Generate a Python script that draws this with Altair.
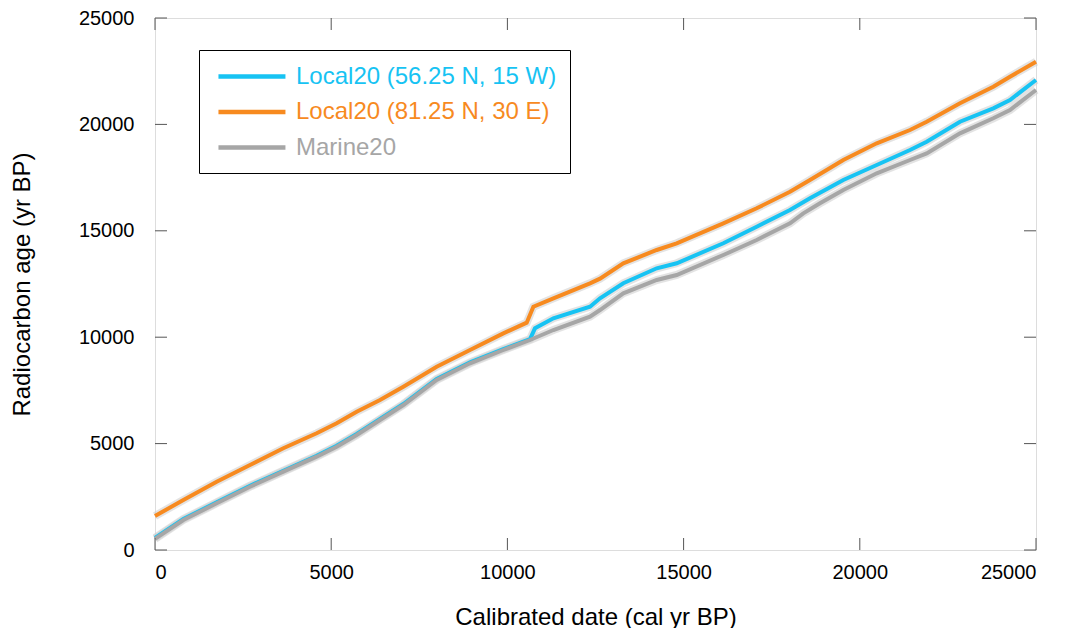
import altair as alt
import pandas as pd

series_names = ["Local20 (56.25 N, 15 W)", "Local20 (81.25 N, 30 E)", "Marine20"]
series_colors = ["#17c3f3", "#f78a1f", "#a6a6a6"]

# Local20 (56.25 N, 15 W)
blue_cal = [0, 805, 1750, 2696, 3641, 4587, 5155, 5723, 6385, 7047, 7993, 8939, 9884, 10641,
            10783, 11305, 12344, 12628, 13289, 14237, 14804, 16127, 17074, 18019, 18586, 19532,
            20480, 21425, 21898, 22843, 23788, 24262, 25000]
blue_age = [570, 1455, 2240, 3020, 3725, 4430, 4900, 5450, 6155, 6860, 8035, 8820, 9445, 9910,
            10418, 10888, 11433, 11828, 12533, 13238, 13473, 14413, 15193, 15978, 16528, 17387,
            18092, 18797, 19187, 20127, 20756, 21147, 22086]

# Local20 (81.25 N, 30 E)
orange_cal = [0, 805, 1750, 2696, 3641, 4587, 5155, 5723, 6385, 7047, 7993, 8939, 9884, 10547,
              10737, 11305, 12344, 12628, 13289, 14237, 14804, 16127, 17074, 18019, 18586, 19532,
              20480, 21425, 21898, 22843, 23788, 24262, 25000]
orange_age = [1598, 2350, 3210, 3995, 4780, 5485, 5955, 6500, 7050, 7675, 8614, 9398, 10181, 10682,
              11433, 11828, 12533, 12750, 13473, 14098, 14413, 15352, 16058, 16838, 17387, 18327,
              19112, 19737, 20127, 20990, 21772, 22241, 22947]

# Marine20
gray_cal = [0, 805, 1750, 2696, 3641, 4587, 5155, 5723, 6385, 7047, 7993, 8939, 9884, 10641,
            11305, 12344, 12628, 13289, 14237, 14804, 16127, 17074, 18019, 18397, 18870, 19532,
            20480, 21425, 21898, 22843, 23788, 24262, 25000]
gray_age = [520, 1410, 2195, 2975, 3680, 4385, 4855, 5405, 6110, 6814, 7989, 8773, 9398, 9868,
            10338, 10963, 11278, 12063, 12688, 12923, 13863, 14568, 15353, 15823, 16293, 16917,
            17702, 18327, 18640, 19580, 20287, 20677, 21616]

tick_values = [0, 5000, 10000, 15000, 20000, 25000]

W, H = 881, 532
TL = 12

rows = []
for name, cals, ages in [(series_names[0], blue_cal, blue_age),
                         (series_names[2], gray_cal, gray_age),
                         (series_names[1], orange_cal, orange_age)]:
    for c, a in zip(cals, ages):
        rows.append({"series": name, "cal": c, "age": a})
df = pd.DataFrame(rows)
ticks_df = pd.DataFrame({"v": tick_values})

xscale = alt.Scale(domain=[0, 25000], nice=False, zero=False)
yscale = alt.Scale(domain=[0, 25000], nice=False, zero=False)

label_color_expr = (
    f"datum.label == '{series_names[0]}' ? '{series_colors[0]}' : "
    f"(datum.label == '{series_names[1]}' ? '{series_colors[1]}' : '{series_colors[2]}')"
)

FONT = "Liberation Sans"

x_enc = alt.X("cal:Q", scale=xscale,
              axis=alt.Axis(values=tick_values, ticks=False, domain=False, grid=False,
                            labelFontSize=20, labelPadding=12, labelColor="black",
                            labelFont=FONT, format="d",
                            title="Calibrated date (cal yr BP)", titleFontSize=24,
                            titleFont=FONT, titleFontWeight="normal",
                            titlePadding=23, titleColor="black"))
y_enc = alt.Y("age:Q", scale=yscale,
              axis=alt.Axis(values=tick_values, ticks=False, domain=False, grid=False,
                            labelFontSize=20, labelPadding=21, labelColor="black",
                            labelFont=FONT, format="d",
                            title="Radiocarbon age (yr BP)", titleFontSize=24,
                            titleFont=FONT, titleFontWeight="normal",
                            titlePadding=44, titleColor="black"))

halo = alt.Chart(df).mark_line(strokeWidth=8, color="#d0d0d0", opacity=0.6).encode(
    x=x_enc, y=y_enc, detail="series:N", order="cal:Q"
)

lines = alt.Chart(df).mark_line(strokeWidth=4).encode(
    x=alt.X("cal:Q", scale=xscale),
    y=alt.Y("age:Q", scale=yscale),
    color=alt.Color("series:N",
                    scale=alt.Scale(domain=series_names, range=series_colors),
                    sort=series_names,
                    legend=alt.Legend(title=None, orient="none", legendX=44, legendY=32,
                                      symbolType="M-0.64,0H5.45", symbolSize=484,
                                      symbolStrokeWidth=4.5, labelFontSize=24,
                                      labelFont=FONT,
                                      labelColor={"expr": label_color_expr},
                                      labelOffset=57, rowPadding=9.5, padding=13,
                                      strokeColor="black", fillColor="white",
                                      labelLimit=400)),
    order="cal:Q",
)

blue_line = lines.transform_filter(alt.datum.series == series_names[0])
gray_line = lines.transform_filter(alt.datum.series == series_names[2])
orange_line = lines.transform_filter(alt.datum.series == series_names[1])

tick_color = "#555555"
xt_bottom = alt.Chart(ticks_df).mark_rule(color=tick_color, strokeWidth=1).encode(
    x=alt.X("v:Q", scale=xscale), y=alt.value(H), y2=alt.value(H - TL))
xt_top = alt.Chart(ticks_df).mark_rule(color=tick_color, strokeWidth=1).encode(
    x=alt.X("v:Q", scale=xscale), y=alt.value(0), y2=alt.value(TL))
yt_left = alt.Chart(ticks_df).mark_rule(color=tick_color, strokeWidth=1).encode(
    y=alt.Y("v:Q", scale=yscale), x=alt.value(0), x2=alt.value(TL))
yt_right = alt.Chart(ticks_df).mark_rule(color=tick_color, strokeWidth=1).encode(
    y=alt.Y("v:Q", scale=yscale), x=alt.value(W), x2=alt.value(W - TL))

chart = alt.layer(
    halo, blue_line, gray_line, orange_line, xt_bottom, xt_top, yt_left, yt_right
).properties(
    width=W, height=H,
    autosize=alt.AutoSizeParams(type="none"),
    padding={"left": 147, "top": 10, "right": 24, "bottom": 78},
).configure_view(
    stroke="#999999", strokeWidth=1
).configure_legend(
    strokeWidth=2
).configure(
    background="white"
)

chart.save("out.html", embed_options={"renderer": "svg", "actions": False})
